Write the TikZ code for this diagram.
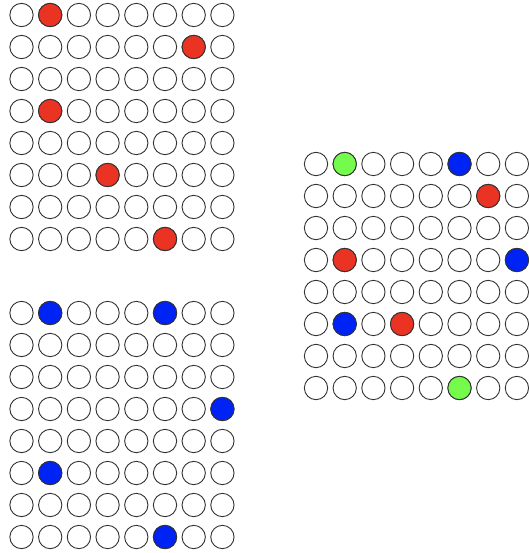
\documentclass[tikz,border=0pt]{standalone}
\definecolor{dotred}{RGB}{234,51,35}
\definecolor{dotblue}{RGB}{0,35,245}
\definecolor{dotgreen}{RGB}{117,251,76}
\definecolor{ringgray}{RGB}{50,50,50}
\tikzset{
  dot/.style={circle, draw=ringgray, line width=0.9pt, fill=white, minimum size=23.3pt, inner sep=0pt},
  reddot/.style={dot, fill=dotred},
  bluedot/.style={dot, fill=dotblue},
  greendot/.style={dot, fill=dotgreen}
}
\begin{document}
\begin{tikzpicture}[x=1pt,y=-1pt]
\useasboundingbox (0,0) rectangle (528,553);
% grid A: top left
\foreach \i in {0,...,7} \foreach \j in {0,...,7} {
  \node[dot] (a-\i-\j) at ({21.5+28.7*\i},{15+32*\j}) {};
}
\foreach \i/\j in {1/0,6/1,1/3,3/5,5/7} {
  \node[reddot] at (a-\i-\j) {};
}
% grid B: bottom left
\foreach \i in {0,...,7} \foreach \j in {0,...,7} {
  \node[dot] (b-\i-\j) at ({21.5+28.7*\i},{313+32*\j}) {};
}
\foreach \i/\j in {1/0,5/0,7/3,1/5,5/7} {
  \node[bluedot] at (b-\i-\j) {};
}
% grid C: right
\foreach \i in {0,...,7} \foreach \j in {0,...,7} {
  \node[dot] (c-\i-\j) at ({316+28.7*\i},{164+32*\j}) {};
}
\foreach \i/\j in {6/1,1/3,3/5} {
  \node[reddot] at (c-\i-\j) {};
}
\foreach \i/\j in {5/0,7/3,1/5} {
  \node[bluedot] at (c-\i-\j) {};
}
\foreach \i/\j in {1/0,5/7} {
  \node[greendot] at (c-\i-\j) {};
}
\end{tikzpicture}
\end{document}
